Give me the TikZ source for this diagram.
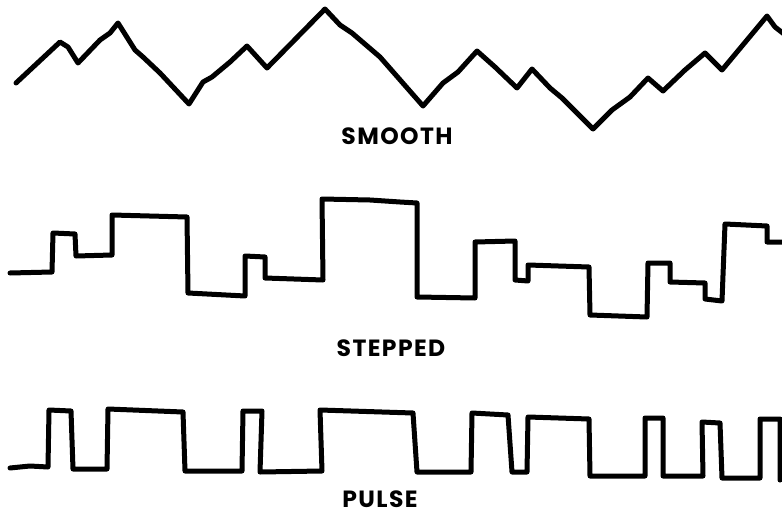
\documentclass[tikz,border=0pt]{standalone}
\usepackage{fontspec}
\newfontfamily\handfont{Poppins}[LetterSpace=6]
\usepackage{tikz}

\begin{document}
\begin{tikzpicture}[
    x=1pt,y=-1pt,
    wave/.style={draw,line width=5pt,line join=round,line cap=round},
    caption/.style={font=\handfont\bfseries\fontsize{23.5}{24}\selectfont,inner sep=0pt,anchor=base},
]
    \useasboundingbox (0,0) rectangle (782,514);

    %smooth
    \draw[wave] plot coordinates {(16,83) (60,42) (68,47) (78,63) (100,40) (110,33)
        (118,23) (135,50) (143,57) (160,73) (189,104) (203,82) (212,77) (230,62)
        (247,46) (267,68) (325,9) (340,25) (352,33) (380,57) (423,106) (443,83)
        (458,72) (477,51) (495,67) (517,88) (532,69) (550,88) (562,98) (593,129)
        (612,110) (630,97) (648,78) (663,91) (685,70) (705,53) (722,70) (767,16)
        (775,27) (784,34)};
    \node[caption] (smooth) at (397,144) {SMOOTH};

    %stepped
    \draw[wave] plot coordinates {(10,273) (52,272) (53,233) (75,234) (76,256)
        (112,255) (112,215) (187,217) (188,293) (245,296) (245,256) (265,257)
        (265,278) (323,280) (322,199) (370,200) (400,202) (417,203) (417,297)
        (475,298) (475,242) (515,241) (515,280) (528,281) (528,265) (589,267)
        (590,315) (647,317) (648,263) (670,263) (670,282) (705,283) (705,299)
        (722,301) (725,224) (767,226) (767,242) (784,242)};
    \node[caption] (stepped) at (391,356) {STEPPED};

    %pulse
    \draw[wave] plot coordinates {(10,468) (30,466) (48,467) (49,410) (71,411)
        (73,469) (107,469) (108,409) (183,412) (185,471) (242,471) (243,411)
        (262,411) (260,472) (322,471) (320,410) (413,413) (417,472) (471,472)
        (472,413) (508,415) (512,472) (527,472) (528,417) (589,419) (590,476)
        (645,476) (645,418) (663,418) (663,476) (703,476) (702,422) (720,423)
        (722,478) (760,478) (760,419) (780,419) (780,480)};
    \node[caption] (pulse) at (380,507) {PULSE};
\end{tikzpicture}
\end{document}
